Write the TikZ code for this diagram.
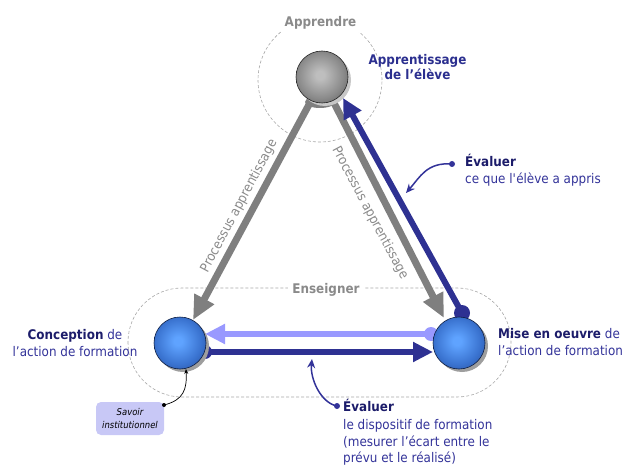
\documentclass[tikz,border=0pt]{standalone}
\usepackage{fontspec}
\setmainfont{DejaVu Sans}[FakeStretch=0.9]
\usetikzlibrary{arrows.meta,shadows,calc}

% palette
\definecolor{navy}{HTML}{1C1C6A}
\definecolor{titleblue}{HTML}{2B2F8F}
\definecolor{midblue}{HTML}{333399}
\definecolor{arrowblue}{HTML}{2E3192}
\definecolor{lightarrow}{HTML}{9999FF}
\definecolor{arrowgray}{HTML}{7F7F7F}
\definecolor{labelgray}{HTML}{8A8A8A}
\definecolor{dashgray}{HTML}{A8A8A8}
\definecolor{savoirfill}{HTML}{C8C8F6}
\definecolor{bsA}{HTML}{5FA3FF}
\definecolor{bsB}{HTML}{3A73D0}
\definecolor{bsC}{HTML}{1F4088}
\definecolor{bsD}{HTML}{152C60}
\definecolor{gsA}{HTML}{BEBEBE}
\definecolor{gsB}{HTML}{8A8A8A}
\definecolor{gsC}{HTML}{4A4A4A}
\definecolor{gsD}{HTML}{2E2E2E}

% sphere shadings
\pgfdeclareradialshading{bluesph}{\pgfpoint{-2bp}{2bp}}{color(0bp)=(bsA); color(4bp)=(bsA); color(22bp)=(bsB); color(40bp)=(bsC); color(50bp)=(bsD); color(80bp)=(bsD)}
\pgfdeclareradialshading{graysph}{\pgfpoint{-2bp}{2bp}}{color(0bp)=(gsA); color(4bp)=(gsA); color(22bp)=(gsB); color(40bp)=(gsC); color(50bp)=(gsD); color(80bp)=(gsD)}

\pgfdeclarelayer{back}
\pgfsetlayers{back,main}

\begin{document}
\begin{tikzpicture}[x=1pt,y=-1pt,
  sphere/.style={circle, minimum size=52pt, inner sep=0pt, outer sep=0pt, line width=0.6pt},
  bluesphere/.style={sphere, shade, shading=bluesph, draw=bsD!70!black,
    drop shadow={shadow xshift=3pt, shadow yshift=-3pt, fill=black!38, opacity=1}},
  graysphere/.style={sphere, shade, shading=graysph, draw=gsD!80!black,
    drop shadow={shadow xshift=3pt, shadow yshift=-3pt, fill=black!22, opacity=1}},
  zone/.style={draw=dashgray, line width=0.6pt, dash pattern=on 3pt off 2pt},
  zonelabel/.style={fill=white, inner xsep=4pt, inner ysep=2pt, anchor=base,
    text=labelgray, font=\fontsize{13.3}{15}\selectfont\bfseries},
  grayarrow/.style={draw=arrowgray, line width=7pt, -{Triangle[length=24pt,width=21pt]}},
  darkarrow/.style={draw=arrowblue, line width=6pt, -{Triangle[length=20pt,width=19pt]}},
  lightarr/.style={draw=lightarrow, line width=6pt, -{Triangle[length=20pt,width=19pt]}},
  note/.style={draw=midblue, line width=1.5pt, -{Stealth[length=9pt,width=8pt]}},
  blacknote/.style={draw=black, line width=0.7pt, -{Stealth[length=5pt,width=4pt]}},
  txt/.style={inner sep=0pt, anchor=base west, text=midblue, font=\fontsize{13.3}{15}\selectfont},
  ctxt/.style={txt, anchor=base},
  boldtxt/.style={font=\fontsize{13.3}{15}\selectfont\bfseries},
  proc/.style={inner sep=0pt, text=labelgray, font=\fontsize{13.3}{15}\selectfont},
]
\useasboundingbox (0,0) rectangle (626,465);

% the three poles
\node[bluesphere] (conc) at (180,343) {};
\node[bluesphere] (mise) at (459,343) {};
\node[graysphere] (eleve) at (322,77) {};

% anchor points of the connectors
\coordinate (grayL0) at ($(eleve)+(-10,22)$);
\coordinate (grayR0) at ($(eleve)+(10,22)$);
\coordinate (grayL1) at ($(conc)+(13,-23)$);
\coordinate (grayR1) at ($(mise)+(-15,-25)$);
\coordinate (upstart) at ($(mise)+(3,-30)$);
\coordinate (upend) at ($(eleve)+(21,21)$);
\coordinate (backstart) at ($(mise)+(-28,-9)$);
\coordinate (backend) at ($(conc)+(25,-9)$);
\coordinate (fwdstart) at ($(conc)+(25,9)$);
\coordinate (fwdend) at ($(mise)+(-26,9)$);

\begin{pgfonlayer}{back}
  % zones
  \draw[zone] (320,80) circle[radius=62pt];
  \draw[zone, rounded corners=54pt] (128,288) rectangle (511,397);
  % learning process
  \fill[arrowgray] ($(eleve)+(-2,25)$) ellipse[x radius=15pt, y radius=6pt];
  \draw[grayarrow] (grayL0) -- (grayL1);
  \draw[grayarrow] (grayR0) -- (grayR1);
  % evaluation loops
  \fill[arrowblue] (upstart) circle[radius=8pt];
  \draw[darkarrow] (upstart) -- (upend);
  \fill[lightarrow] (backstart) circle[radius=7pt];
  \draw[lightarr] (backstart) -- (backend);
  \fill[arrowblue] (fwdstart) circle[radius=7pt];
  \draw[darkarrow] (fwdstart) -- (fwdend);
\end{pgfonlayer}

% zone labels
\node[zonelabel] (apprendre) at (320.5,27) {Apprendre};
\node[zonelabel] (enseigner) at (326,293) {Enseigner};

% process labels
\node[proc, rotate=62] (procL) at (239,206) {Processus apprentissage};
\node[proc, rotate=-62] (procR) at (370,213) {Processus apprentissage};

% pole captions
\node[ctxt, boldtxt, text=titleblue] (titleA) at (417.5,65) {Apprentissage};
\node[ctxt, boldtxt, text=titleblue] (titleB) at (417.5,80) {de l’élève};

\node[ctxt] (concA) at (75,339) {\textcolor{navy}{\bfseries Conception} de};
\node[ctxt] (concB) at (75,356) {l’action de formation};

\node[txt] (miseA) at (498,338) {\textcolor{navy}{\bfseries Mise en oeuvre} de};
\node[txt] (miseB) at (498,355) {l’action de formation};

% evaluation notes
\node[txt, boldtxt, text=navy] (evalA) at (465,167) {Évaluer};
\node[txt] (evalAb) at (465,184) {ce que l\textquotesingle élève a appris};
\coordinate (evalAdot) at (452,164);
\coordinate (evalAtip) at (406,193);
\fill[midblue] (evalAdot) circle[radius=3pt];
\draw[note] (evalAdot) .. controls +(-25,-2) and +(14,-16) .. (evalAtip);

\node[txt, boldtxt, text=navy] (evalB) at (343,411) {Évaluer};
\node[txt] (evalBb) at (343,429) {le dispositif de formation};
\node[txt] (evalBc) at (343,446) {(mesurer l’écart entre le};
\node[txt] (evalBd) at (343,462) {prévu et le réalisé)};
\coordinate (evalBdot) at (337,406);
\coordinate (evalBtip) at (312,359);
\fill[midblue] (evalBdot) circle[radius=3pt];
\draw[note] (evalBdot) .. controls +(-16,-3) and +(-2,20) .. (evalBtip);

% institutional knowledge
\node[fill=savoirfill, rounded corners=5pt, minimum width=68pt, minimum height=33pt,
  inner sep=0pt, align=center, font=\fontsize{9.4}{13}\selectfont\itshape] (savoir) at (130,418.5)
  {Savoir\\institutionnel};
\coordinate (savdot) at (164,405);
\coordinate (savtip) at (186,369);
\fill (savdot) circle[radius=2pt];
\draw[blacknote] (savdot) .. controls +(20,-5) and +(1,20) .. (savtip);
\end{tikzpicture}
\end{document}
